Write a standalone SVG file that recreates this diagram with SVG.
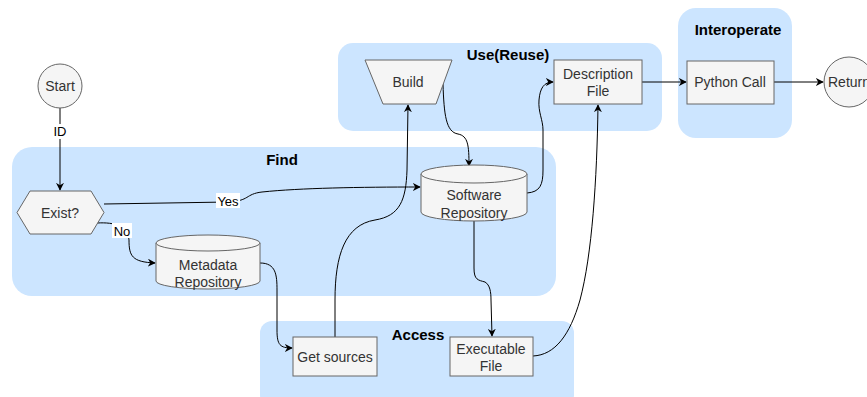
<svg xmlns="http://www.w3.org/2000/svg" width="867" height="397" viewBox="0 0 867 397">
  <style>
    .group { fill: #cce5ff; stroke: none; }
    .gtitle { font-family: "Liberation Sans", Arial, sans-serif; font-size: 15px; font-weight: bold; fill: #000000; text-anchor: middle; }
    .node { fill: #f5f5f5; stroke: #666666; stroke-width: 1; }
    .label { font-family: "Liberation Sans", Arial, sans-serif; font-size: 14px; fill: #333333; text-anchor: middle; dominant-baseline: central; }
    .edge { fill: none; stroke: #000000; stroke-width: 1; }
    .elabel { font-family: "Liberation Sans", Arial, sans-serif; font-size: 13px; fill: #000000; text-anchor: middle; dominant-baseline: central; }
    .lblbg { fill: #ffffff; }
  </style>
  <defs>
    <marker id="arrow" viewBox="0 0 10 10" refX="9" refY="5" markerWidth="8" markerHeight="8" markerUnits="userSpaceOnUse" orient="auto">
      <path d="M0,0 L10,5 L0,10 L3,5 Z" fill="#000000"/>
    </marker>
  </defs>

  <!-- swimlane groups -->
  <g id="group-find">
    <rect class="group" x="12" y="147" width="544" height="149" rx="20"/>
    <text class="gtitle" x="282" y="165">Find</text>
  </g>
  <g id="group-use">
    <rect class="group" x="338" y="43" width="324" height="88" rx="15"/>
    <text class="gtitle" x="508" y="60">Use(Reuse)</text>
  </g>
  <g id="group-interoperate">
    <rect class="group" x="678" y="8" width="114" height="130" rx="18"/>
    <text class="gtitle" x="738" y="35">Interoperate</text>
  </g>
  <g id="group-access">
    <rect class="group" x="260" y="321" width="314" height="86" rx="12"/>
    <text class="gtitle" x="418" y="340">Access</text>
  </g>

  <!-- connectors -->
  <g id="connectors">
    <path class="edge" d="M60,108 L60,190" marker-end="url(#arrow)"/>
    <path class="edge" d="M104,204 L228,202 C250,201 245,194 262,192 C300,188 360,187 420,187" marker-end="url(#arrow)"/>
    <path class="edge" d="M97,223 C115,222 128,226 129,240 C129,256 132,262 155,263" marker-end="url(#arrow)"/>
    <path class="edge" d="M260,263 C276,263 277,275 277,290 L277,330 C277,345 280,348 292,348" marker-end="url(#arrow)"/>
    <path class="edge" d="M335,337 L335,300 C335,255 345,225 375,220 C400,216 406,200 407,170 L408,105" marker-end="url(#arrow)"/>
    <path class="edge" d="M443,84 C444,115 446,132 458,134 C468,136 469,145 469,166" marker-end="url(#arrow)"/>
    <path class="edge" d="M527,193 C540,192 543,185 543,170 L543,130 C543,120 538,112 539,100 C540,88 544,82 553,82" marker-end="url(#arrow)"/>
    <path class="edge" d="M474,221 L474,268 C474,280 478,280 485,282 C490,285 491,292 491,300 L492,336" marker-end="url(#arrow)"/>
    <path class="edge" d="M533,356 C555,355 570,335 580,300 C592,255 597,180 598,105" marker-end="url(#arrow)"/>
    <path class="edge" d="M642,82 L686,82" marker-end="url(#arrow)"/>
    <path class="edge" d="M774,82 L823,82" marker-end="url(#arrow)"/>
    <!-- edge labels -->
    <rect class="lblbg" x="52" y="124" width="16" height="15"/>
    <text class="elabel" x="60" y="131">ID</text>
    <rect class="lblbg" x="216" y="193" width="24" height="15"/>
    <text class="elabel" x="228" y="201">Yes</text>
    <rect class="lblbg" x="112" y="223" width="20" height="15"/>
    <text class="elabel" x="122" y="231">No</text>
  </g>

  <!-- nodes -->
  <g id="start">
    <circle class="node" cx="60" cy="86" r="22"/>
    <text class="label" x="60" y="86">Start</text>
  </g>
  <g id="exist">
    <polygon class="node" points="17,212.5 30,191 91,191 104,212.5 91,234 30,234"/>
    <text class="label" x="60" y="213">Exist?</text>
  </g>
  <g id="metadata-repository">
    <path class="node" d="M156,243 A52,8 0 0 1 260,243 L260,281 A52,8 0 0 1 156,281 Z"/>
    <path class="node" d="M156,243 A52,8 0 0 0 260,243" fill="none"/>
    <text class="label" x="208" y="265">Metadata</text>
    <text class="label" x="208" y="282">Repository</text>
  </g>
  <g id="software-repository">
    <path class="node" d="M421,174 A53,9 0 0 1 527,174 L527,212 A53,9 0 0 1 421,212 Z"/>
    <path class="node" d="M421,174 A53,9 0 0 0 527,174" fill="none"/>
    <text class="label" x="474" y="195">Software</text>
    <text class="label" x="474" y="213">Repository</text>
  </g>
  <g id="build">
    <polygon class="node" points="365,60 452,60 436,104 383,104"/>
    <text class="label" x="408" y="82">Build</text>
  </g>
  <g id="description-file">
    <rect class="node" x="554" y="60" width="88" height="44"/>
    <text class="label" x="598" y="74">Description</text>
    <text class="label" x="598" y="91">File</text>
  </g>
  <g id="python-call">
    <rect class="node" x="687" y="61" width="87" height="43"/>
    <text class="label" x="730" y="82">Python Call</text>
  </g>
  <g id="return">
    <circle class="node" cx="849" cy="82" r="25"/>
    <text class="label" x="849" y="82">Return</text>
  </g>
  <g id="get-sources">
    <rect class="node" x="293" y="337" width="84" height="39"/>
    <text class="label" x="335" y="357">Get sources</text>
  </g>
  <g id="executable-file">
    <rect class="node" x="450" y="337" width="83" height="39"/>
    <text class="label" x="491" y="349">Executable</text>
    <text class="label" x="491" y="366">File</text>
  </g>
</svg>
